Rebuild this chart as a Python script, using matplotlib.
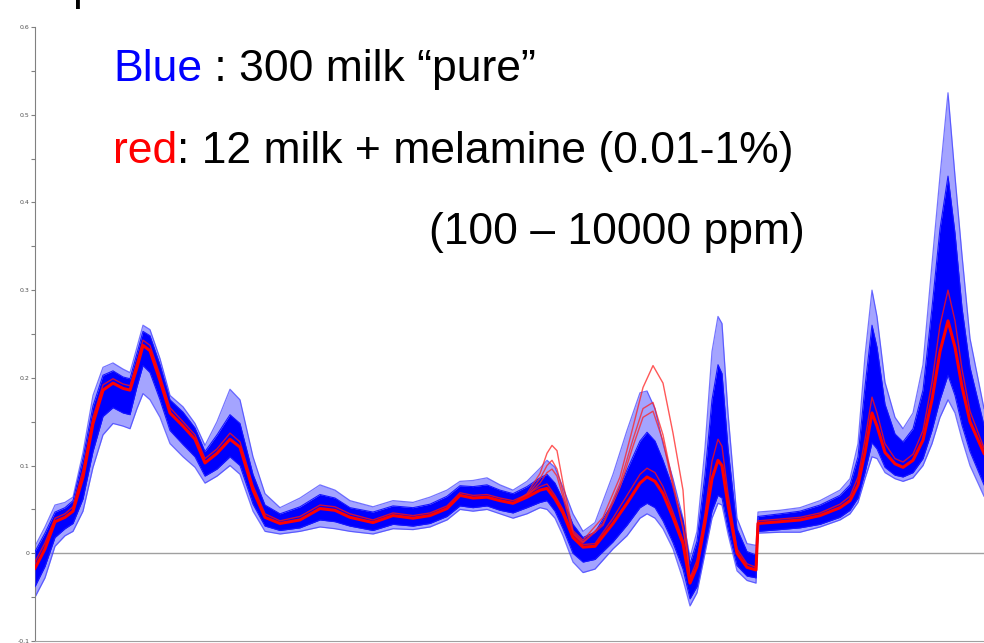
import matplotlib
matplotlib.use("Agg")
import matplotlib.pyplot as plt
from matplotlib.ticker import MultipleLocator, FuncFormatter

# ---------------- data ----------------
channel = [35, 45, 55, 65, 73, 83, 93, 103, 113, 123, 130, 137, 143, 150, 160, 170,
           183, 195, 205, 217, 230, 240, 253, 265, 280, 300, 320, 335, 350, 373, 393,
           413, 430, 447, 460, 473, 487, 500, 513, 527, 540, 547, 555, 563, 573, 583,
           595, 613, 627, 640, 647, 655, 663, 673, 683, 690, 697, 705, 712, 718, 722,
           728, 737, 747, 756, 758, 780, 800, 820, 840, 850, 858, 865, 872, 877, 885,
           895, 903, 913, 923, 932, 940, 948, 955, 962, 970, 984]

# mean spectrum (red main)
mean_spec = [-0.017, 0.005, 0.036, 0.041, 0.048, 0.087, 0.148, 0.186, 0.194, 0.188, 0.186,
             0.212, 0.237, 0.231, 0.197, 0.160, 0.145, 0.130, 0.103, 0.114, 0.130, 0.121,
             0.072, 0.041, 0.034, 0.038, 0.051, 0.049, 0.041, 0.035, 0.043, 0.040, 0.043,
             0.051, 0.066, 0.063, 0.064, 0.060, 0.057, 0.064, 0.072, 0.074, 0.062, 0.046,
             0.018, 0.007, 0.008, 0.034, 0.057, 0.080, 0.087, 0.082, 0.068, 0.041, 0.011,
             -0.034, -0.015, 0.035, 0.085, 0.106, 0.100, 0.055, 0.000, -0.016, -0.019,
             0.034, 0.036, 0.038, 0.043, 0.052, 0.060, 0.078, 0.115, 0.160, 0.145, 0.115,
             0.102, 0.098, 0.106, 0.129, 0.175, 0.230, 0.265, 0.235, 0.190, 0.150, 0.114]

# upper red sample
red_upper = [-0.010, 0.012, 0.040, 0.045, 0.053, 0.095, 0.155, 0.192, 0.199, 0.193, 0.191,
             0.218, 0.243, 0.237, 0.203, 0.166, 0.150, 0.135, 0.108, 0.119, 0.137, 0.127,
             0.077, 0.045, 0.037, 0.042, 0.055, 0.053, 0.045, 0.038, 0.046, 0.043, 0.046,
             0.054, 0.069, 0.066, 0.067, 0.063, 0.060, 0.067, 0.076, 0.079, 0.066, 0.050,
             0.022, 0.010, 0.011, 0.040, 0.066, 0.090, 0.097, 0.092, 0.076, 0.047, 0.015,
             -0.028, -0.008, 0.045, 0.105, 0.130, 0.122, 0.068, 0.005, -0.012, -0.016,
             0.037, 0.039, 0.041, 0.046, 0.056, 0.065, 0.087, 0.130, 0.178, 0.160, 0.125,
             0.108, 0.104, 0.113, 0.140, 0.195, 0.260, 0.300, 0.265, 0.210, 0.162, 0.120]

# dense part of the 300 "pure" spectra
dense_lo = [-0.038, -0.015, 0.018, 0.028, 0.034, 0.062, 0.116, 0.156, 0.166, 0.160, 0.158,
            0.190, 0.214, 0.206, 0.175, 0.140, 0.124, 0.110, 0.088, 0.096, 0.110, 0.100,
            0.056, 0.031, 0.026, 0.029, 0.038, 0.036, 0.031, 0.026, 0.033, 0.031, 0.034,
            0.042, 0.054, 0.052, 0.054, 0.049, 0.046, 0.052, 0.058, 0.060, 0.048, 0.028,
            0.000, -0.010, -0.007, 0.013, 0.032, 0.052, 0.057, 0.052, 0.037, 0.012, -0.018,
            -0.052, -0.038, 0.007, 0.048, 0.066, 0.063, 0.028, -0.014, -0.026, -0.028,
            0.025, 0.027, 0.029, 0.033, 0.041, 0.049, 0.063, 0.092, 0.126, 0.119, 0.098,
            0.089, 0.087, 0.092, 0.108, 0.140, 0.175, 0.203, 0.180, 0.146, 0.116, 0.078]
dense_hi = [0.002, 0.023, 0.047, 0.052, 0.060, 0.108, 0.168, 0.203, 0.208, 0.201, 0.199,
            0.228, 0.253, 0.248, 0.215, 0.175, 0.161, 0.143, 0.116, 0.135, 0.158, 0.148,
            0.090, 0.055, 0.045, 0.053, 0.067, 0.063, 0.052, 0.047, 0.054, 0.052, 0.056,
            0.065, 0.077, 0.076, 0.078, 0.072, 0.068, 0.076, 0.086, 0.090, 0.080, 0.061,
            0.033, 0.018, 0.024, 0.058, 0.095, 0.128, 0.138, 0.128, 0.106, 0.074, 0.037,
            -0.012, 0.014, 0.090, 0.175, 0.215, 0.205, 0.120, 0.028, 0.002, -0.002,
            0.042, 0.045, 0.048, 0.055, 0.066, 0.078, 0.110, 0.190, 0.260, 0.235, 0.170,
            0.136, 0.127, 0.142, 0.186, 0.280, 0.370, 0.430, 0.365, 0.280, 0.212, 0.146]

# outermost individual spectra
outer_lo = [-0.050, -0.028, 0.008, 0.020, 0.025, 0.048, 0.098, 0.135, 0.148, 0.145, 0.142,
            0.165, 0.182, 0.175, 0.155, 0.125, 0.110, 0.098, 0.080, 0.088, 0.100, 0.090,
            0.048, 0.025, 0.022, 0.025, 0.030, 0.028, 0.025, 0.022, 0.028, 0.027, 0.030,
            0.038, 0.050, 0.048, 0.050, 0.045, 0.040, 0.045, 0.052, 0.050, 0.040, 0.020,
            -0.010, -0.022, -0.018, 0.005, 0.020, 0.040, 0.045, 0.040, 0.028, 0.005, -0.030,
            -0.060, -0.045, 0.000, 0.040, 0.057, 0.055, 0.022, -0.020, -0.031, -0.034,
            0.023, 0.024, 0.024, 0.030, 0.038, 0.045, 0.058, 0.085, 0.110, 0.108, 0.092,
            0.085, 0.082, 0.086, 0.100, 0.125, 0.155, 0.175, 0.160, 0.130, 0.100, 0.065]
outer_hi = [0.008, 0.030, 0.055, 0.058, 0.064, 0.115, 0.180, 0.212, 0.217, 0.210, 0.206,
            0.235, 0.260, 0.255, 0.222, 0.180, 0.167, 0.148, 0.123, 0.150, 0.187, 0.175,
            0.110, 0.068, 0.052, 0.063, 0.078, 0.072, 0.060, 0.053, 0.060, 0.058, 0.064,
            0.072, 0.082, 0.083, 0.086, 0.078, 0.072, 0.082, 0.097, 0.106, 0.098, 0.075,
            0.045, 0.025, 0.035, 0.090, 0.140, 0.183, 0.185, 0.165, 0.125, 0.085, 0.040,
            -0.005, 0.025, 0.120, 0.230, 0.270, 0.262, 0.160, 0.040, 0.011, 0.009,
            0.047, 0.049, 0.052, 0.060, 0.072, 0.085, 0.125, 0.225, 0.300, 0.270, 0.195,
            0.155, 0.142, 0.160, 0.215, 0.330, 0.430, 0.525, 0.430, 0.340, 0.245, 0.165]

# melamine-spiked samples that depart from the pure band
mel_channel = [513, 527, 540, 547, 552, 557, 563, 573, 583, 603, 620, 633, 643, 653,
               663, 673, 683, 687, 690, 697]
mel_1 = [0.057, 0.068, 0.091, 0.114, 0.123, 0.117, 0.080, 0.026, 0.015, 0.041, 0.087,
         0.144, 0.189, 0.214, 0.194, 0.137, 0.072, 0.007, -0.030, -0.015]
mel_2 = [0.057, 0.066, 0.085, 0.100, 0.106, 0.096, 0.070, 0.024, 0.013, 0.034, 0.080,
         0.130, 0.165, 0.172, 0.135, 0.080, 0.030, 0.003, -0.030, -0.015]
mel_3 = [0.057, 0.065, 0.080, 0.092, 0.096, 0.088, 0.064, 0.022, 0.012, 0.032, 0.075,
         0.122, 0.155, 0.162, 0.128, 0.076, 0.028, 0.001, -0.031, -0.015]

y_ticks = [-0.1, 0.0, 0.1, 0.2, 0.3, 0.4, 0.5, 0.6]

# ---------------- figure ----------------
W, H = 984, 643
fig = plt.figure(figsize=(W / 100, H / 100), dpi=100)
ax = fig.add_axes([35 / W, 2 / H, 1 - 35 / W, (641 - 27) / H])
ax.set_xlim(35, 984)
ax.set_ylim(-0.1, 0.6)

ax.axhline(0, color="#a0a0a0", lw=1.0, zorder=0)

ax.fill_between(channel, outer_lo, outer_hi, color="#5a5aff", alpha=0.55, lw=0, zorder=1)
ax.plot(channel, outer_hi, color="#3a3aff", alpha=0.7, lw=0.9, zorder=2)
ax.plot(channel, outer_lo, color="#3a3aff", alpha=0.7, lw=0.9, zorder=2)
ax.fill_between(channel, dense_lo, dense_hi, color="#0000ff", lw=0, zorder=3)
ax.plot(channel, dense_hi, color="#1515ff", lw=0.8, zorder=3)
ax.plot(channel, dense_lo, color="#1515ff", lw=0.8, zorder=3)

for m in (mel_1, mel_2, mel_3):
    ax.plot(mel_channel, m, color="#ff2020", alpha=0.75, lw=1.0, zorder=4)
ax.plot(channel, red_upper, color="#ff1010", lw=1.0, alpha=0.8, zorder=5)
ax.plot(channel, mean_spec, color="#ff0000", lw=2.2, zorder=5)

# axes styling
for s in ("top", "right"):
    ax.spines[s].set_visible(False)
ax.spines["left"].set_color("#808080")
ax.spines["bottom"].set_color("#a0a0a0")
ax.set_xticks([])
ax.set_yticks(y_ticks)
ax.yaxis.set_minor_locator(MultipleLocator(0.05))
ax.yaxis.set_major_formatter(FuncFormatter(lambda v, p: "0" if abs(v) < 1e-9 else f"{v:.1f}"))
ax.tick_params(axis="y", which="both", direction="out", length=3, width=0.8,
               color="#808080", labelsize=4.5, labelcolor="#505050", pad=1)

# annotations
fam = ["Liberation Sans", "DejaVu Sans"]
fs = 32
fig.canvas.draw()
r = fig.canvas.get_renderer()

def colored_line(x_px, base_px, parts):
    x = x_px
    for txt, col in parts:
        t = fig.text(x / W, 1 - base_px / H, txt, color=col, fontsize=fs,
                     family=fam, va="baseline", ha="left")
        bb = t.get_window_extent(renderer=r)
        x += bb.width

colored_line(113, 81, [("Blue", "#0000ff"), (" : 300 milk \u201cpure\u201d", "black")])
colored_line(113, 163, [("red", "#ff0000"), (": 12 milk + melamine (0.01-1%)", "black")])
colored_line(429, 244, [("(100 \u2013 10000 ppm)", "black")])

fig.text(72 / W, 1.0, "p", fontsize=fs, family=fam, va="baseline", ha="left", color="black")

fig.savefig("out.png", dpi=100)
